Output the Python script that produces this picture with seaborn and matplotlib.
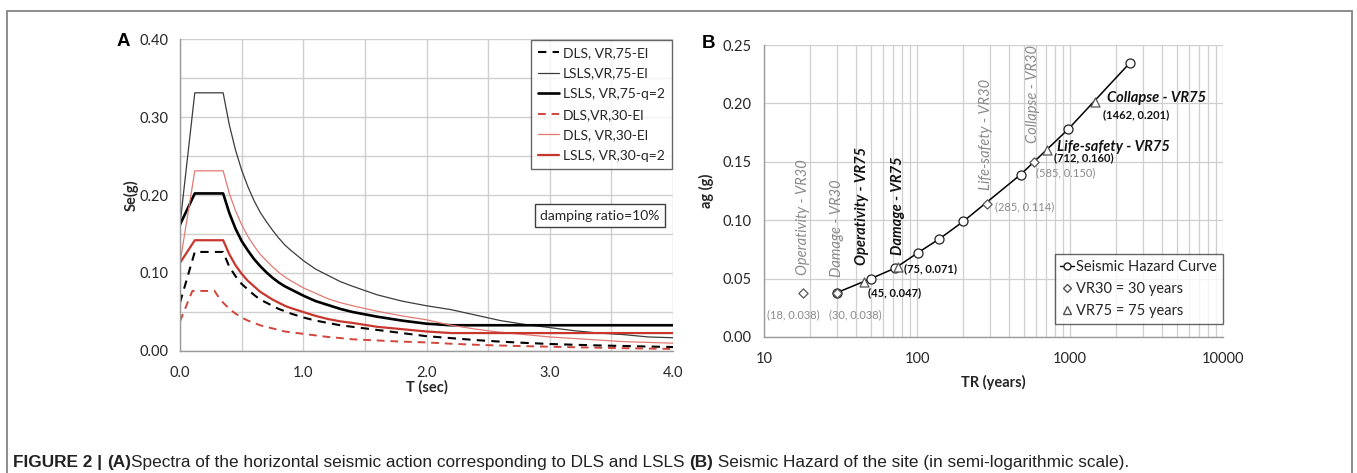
import numpy as np
import pandas as pd
import matplotlib
matplotlib.use("Agg")
import matplotlib.pyplot as plt
import seaborn as sns
from matplotlib.lines import Line2D
from matplotlib.ticker import MultipleLocator, FixedLocator, NullFormatter

# ---------------- data: panel A (response spectra) ----------------
T_common = [0.0, 0.12, 0.35, 0.40, 0.45, 0.50, 0.55, 0.60, 0.65, 0.70, 0.75, 0.80, 0.85, 0.90,
            1.0, 1.1, 1.2, 1.3, 1.4, 1.6, 1.8, 2.0, 2.2, 2.4, 2.6, 2.8, 3.0, 3.2, 3.4, 3.6,
            3.8, 4.0]
T_red_dls = [0.0, 0.10, 0.28, 0.32, 0.35, 0.40, 0.45, 0.50, 0.55, 0.60, 0.65, 0.70, 0.75, 0.80,
             0.85, 0.90, 1.0, 1.1, 1.2, 1.3, 1.4, 1.6, 1.8, 2.0, 2.2, 2.4, 2.6, 2.8, 3.0, 3.2,
             3.4, 3.6, 3.8, 4.0]

dls_vr75_el = [0.062, 0.127, 0.127, 0.108, 0.096, 0.086, 0.079, 0.072, 0.066, 0.062, 0.058, 0.054,
               0.051, 0.048, 0.043, 0.039, 0.036, 0.033, 0.031, 0.027, 0.023, 0.019, 0.0165,
               0.0140, 0.0120, 0.0104, 0.0090, 0.0080, 0.0071, 0.0064, 0.0057, 0.0051]
lsls_vr75_el = [0.162, 0.331, 0.331, 0.290, 0.258, 0.232, 0.211, 0.193, 0.178, 0.166, 0.155,
                0.145, 0.136, 0.129, 0.116, 0.105, 0.097, 0.089, 0.083, 0.072, 0.064, 0.058,
                0.053, 0.046, 0.039, 0.034, 0.030, 0.026, 0.023, 0.021, 0.018, 0.017]
lsls_vr75_q2 = [0.162, 0.202, 0.202, 0.177, 0.157, 0.141, 0.129, 0.118, 0.109, 0.101, 0.094,
                0.088, 0.083, 0.079, 0.071, 0.064, 0.059, 0.054, 0.050, 0.044, 0.039, 0.035,
                0.033, 0.033, 0.033, 0.033, 0.033, 0.033, 0.033, 0.033, 0.033, 0.033]
dls_vr30_el = [0.038, 0.077, 0.077, 0.0675, 0.062, 0.054, 0.048, 0.043, 0.039, 0.036, 0.033,
               0.031, 0.029, 0.027, 0.025, 0.024, 0.022, 0.020, 0.018, 0.0166, 0.015, 0.0135,
               0.0120, 0.0110, 0.0093, 0.0080, 0.0070, 0.0062, 0.0055, 0.0048, 0.0042, 0.0036,
               0.0031, 0.0027]
lsls_vr30_el = [0.113, 0.231, 0.231, 0.202, 0.180, 0.162, 0.147, 0.135, 0.124, 0.116, 0.108,
                0.101, 0.095, 0.090, 0.081, 0.074, 0.067, 0.062, 0.058, 0.051, 0.045, 0.040,
                0.033, 0.028, 0.024, 0.021, 0.018, 0.016, 0.014, 0.012, 0.011, 0.010]
lsls_vr30_q2 = [0.113, 0.142, 0.142, 0.124, 0.110, 0.099, 0.090, 0.083, 0.076, 0.071, 0.066,
                0.062, 0.058, 0.055, 0.050, 0.045, 0.041, 0.038, 0.036, 0.031, 0.028, 0.025,
                0.023, 0.023, 0.023, 0.023, 0.023, 0.023, 0.023, 0.023, 0.023, 0.023]

legend_a_labels = ["DLS, VR,75-El", "LSLS,VR,75-El", "LSLS, VR,75-q=2",
                   "DLS,VR,30-El", "DLS, VR,30-El", "LSLS, VR,30-q=2"]
xticks_a = [0.0, 1.0, 2.0, 3.0, 4.0]
yticks_a = [0.00, 0.10, 0.20, 0.30, 0.40]

# ---------------- data: panel B (seismic hazard) ----------------
hazard_tr = [30, 50, 72, 101, 140, 201, 475, 975, 2475]
hazard_ag = [0.038, 0.050, 0.059, 0.072, 0.084, 0.099, 0.139, 0.178, 0.235]
vr30_tr = [18, 30, 285, 585]
vr30_ag = [0.038, 0.038, 0.114, 0.150]
vr75_tr = [45, 75, 712, 1462]
vr75_ag = [0.047, 0.060, 0.160, 0.201]
xticks_b = [10, 100, 1000, 10000]
yticks_b = [0.00, 0.05, 0.10, 0.15, 0.20, 0.25]

# ---------------- styling ----------------
sns.set_style("white")
plt.rcParams["font.family"] = ["Lato", "DejaVu Sans"]
plt.rcParams["axes.unicode_minus"] = False

W, H = 1357, 473
fig = plt.figure(figsize=(W / 100, H / 100), dpi=100)
fig.patch.set_facecolor("white")


def fx(px):
    return px / W


def fy(py):
    return 1 - py / H


GRID = "#cfcfcf"
AXC = "#9a9a9a"
TXT = "#262626"
TICK_FS = 10.5
LAB_FS = 10.5

# ================= Panel A =================
axA = fig.add_axes([fx(180), fy(351), fx(673) - fx(180), fy(39) - fy(351)])
series = [
    (T_common, dls_vr75_el, dict(color="black", lw=1.5, linestyle=(0, (4, 3)))),
    (T_common, lsls_vr75_el, dict(color="#3c3c3c", lw=0.9, linestyle="-")),
    (T_common, lsls_vr75_q2, dict(color="black", lw=1.9, linestyle="-")),
    (T_red_dls, dls_vr30_el, dict(color="#d0463c", lw=1.4, linestyle=(0, (4, 3)))),
    (T_common, lsls_vr30_el, dict(color="#e27a74", lw=0.9, linestyle="-")),
    (T_common, lsls_vr30_q2, dict(color="#c8372d", lw=1.6, linestyle="-")),
]
handles = []
for (tx, vals, st), lab in zip(series, legend_a_labels):
    sns.lineplot(x=tx, y=vals, ax=axA, estimator=None, sort=False, **st)
    handles.append(Line2D([], [], **st, label=lab))

axA.set_xlim(0, 4)
axA.set_ylim(0, 0.40)
axA.xaxis.set_major_locator(FixedLocator(xticks_a))
axA.xaxis.set_minor_locator(MultipleLocator(0.5))
axA.yaxis.set_major_locator(FixedLocator(yticks_a))
axA.yaxis.set_minor_locator(MultipleLocator(0.05))
axA.set_xticklabels([f"{v:.1f}" for v in xticks_a])
axA.set_yticklabels([f"{v:.2f}" for v in yticks_a])
axA.grid(True, which="both", color=GRID, lw=1.0)
axA.set_axisbelow(True)
for s in ["top", "right"]:
    axA.spines[s].set_visible(False)
for s in ["left", "bottom"]:
    axA.spines[s].set_color(AXC)
    axA.spines[s].set_linewidth(1.0)
axA.tick_params(which="both", direction="out", length=4, color=AXC, width=1.0,
                labelsize=TICK_FS, labelcolor=TXT)
axA.tick_params(axis="x", pad=7)
axA.tick_params(axis="y", pad=4)
axA.set_xlabel("T (sec)", fontsize=LAB_FS, fontweight="bold", color=TXT, labelpad=0)
axA.set_ylabel("Se(g)", fontsize=LAB_FS, fontweight="bold", color=TXT, labelpad=1)

legA = axA.legend(handles=handles, loc="upper right", bbox_to_anchor=(0.998, 0.997),
                  borderaxespad=0, frameon=True, fancybox=False, fontsize=10,
                  handlelength=1.5, handletextpad=0.3, labelspacing=0.62,
                  borderpad=0.5, edgecolor="#404040")
legA.get_frame().set_linewidth(1.0)
for t in legA.get_texts():
    t.set_color(TXT)
axA.text(0.852, 0.433, "damping ratio=10%", transform=axA.transAxes, ha="center", va="center",
         fontsize=10, color=TXT,
         bbox=dict(boxstyle="square,pad=0.4", fc="white", ec="#404040", lw=1.0))

# ================= Panel B =================
axB = fig.add_axes([fx(764), fy(337), fx(1223) - fx(764), fy(45) - fy(337)])
sns.lineplot(x=hazard_tr, y=hazard_ag, ax=axB, color="black", lw=1.1, marker="o",
             markersize=6.5, markerfacecolor="white", markeredgecolor="#222222",
             markeredgewidth=0.9, estimator=None, sort=False, zorder=3)
sns.scatterplot(x=vr30_tr, y=vr30_ag, ax=axB, marker="D", s=22, facecolor="white",
                edgecolor="#555555", linewidth=0.9, zorder=4)
sns.scatterplot(x=vr75_tr, y=vr75_ag, ax=axB, marker="^", s=42, facecolor="white",
                edgecolor="#555555", linewidth=0.9, zorder=4)

axB.set_xscale("log")
axB.set_xlim(10, 10000)
axB.set_ylim(0, 0.25)
axB.xaxis.set_major_locator(FixedLocator(xticks_b))
axB.xaxis.set_minor_locator(FixedLocator([m * d for d in [10, 100, 1000] for m in range(2, 10)]))
axB.xaxis.set_minor_formatter(NullFormatter())
axB.set_xticklabels([str(v) for v in xticks_b])
axB.yaxis.set_major_locator(FixedLocator(yticks_b))
axB.set_yticklabels([f"{v:.2f}" for v in yticks_b])
axB.grid(True, which="both", axis="x", color=GRID, lw=0.9)
axB.grid(True, which="major", axis="y", color=GRID, lw=0.9)
axB.set_axisbelow(True)
for s in ["top", "right"]:
    axB.spines[s].set_visible(False)
for s in ["left", "bottom"]:
    axB.spines[s].set_color(AXC)
    axB.spines[s].set_linewidth(1.0)
axB.tick_params(which="both", direction="out", length=4, color=AXC, width=1.0,
                labelsize=TICK_FS, labelcolor=TXT)
axB.tick_params(axis="x", pad=7)
axB.tick_params(axis="y", pad=5)
axB.set_xlabel("TR (years)", fontsize=LAB_FS, fontweight="bold", color=TXT, labelpad=6)
axB.set_ylabel("ag (g)", fontsize=LAB_FS, fontweight="bold", color=TXT, labelpad=6)

GRAY = "#8a8a8a"
# vertical limit-state labels
rot_labels = [
    (18, 0.053, "Operativity - VR30", GRAY, "normal"),
    (30, 0.051, "Damage - VR30", GRAY, "normal"),
    (44, 0.062, "Operativity - VR75", "#111111", "bold"),
    (75, 0.070, "Damage - VR75", "#111111", "bold"),
    (282, 0.126, "Life-safety - VR30", GRAY, "normal"),
    (573, 0.166, "Collapse - VR30", GRAY, "normal"),
]
for x, y, s, c, w in rot_labels:
    axB.text(x, y, s, rotation=90, ha="center", va="bottom", fontsize=10.5,
             style="italic", color=c, fontweight=w)
axB.text(1746, 0.2046, "Collapse - VR75", ha="left", va="center", fontsize=10.5,
         style="italic", fontweight="bold", color="#111111")
axB.text(822, 0.1627, "Life-safety - VR75", ha="left", va="center", fontsize=10.5,
         style="italic", fontweight="bold", color="#111111")

pt_labels = [
    (10.5, 0.0188, "(18, 0.038)", GRAY, "normal"),
    (26.6, 0.0188, "(30, 0.038)", GRAY, "normal"),
    (47.9, 0.0377, "(45, 0.047)", "#111111", "bold"),
    (82.2, 0.0582, "(75, 0.071)", "#111111", "bold"),
    (323.6, 0.1113, "(285, 0.114)", GRAY, "normal"),
    (600, 0.1410, "(585, 0.150)", GRAY, "normal"),
    (785, 0.1535, "(712, 0.160)", "#111111", "bold"),
    (1644, 0.190, "(1462, 0.201)", "#111111", "bold"),
]
for x, y, s, c, w in pt_labels:
    axB.text(x, y, s, ha="left", va="center", fontsize=8, color=c, fontweight=w)

hB = [
    Line2D([], [], color="black", lw=1.0, marker="o", markersize=5, markerfacecolor="white",
           markeredgecolor="#222222", label="Seismic Hazard Curve"),
    Line2D([], [], color="none", marker="D", markersize=4, markerfacecolor="white",
           markeredgecolor="#555555", label="VR30 = 30 years"),
    Line2D([], [], color="none", marker="^", markersize=6, markerfacecolor="white",
           markeredgecolor="#555555", label="VR75 = 75 years"),
]
legB = axB.legend(handles=hB, loc="upper right", bbox_to_anchor=(1.0, 0.284), borderaxespad=0,
                  frameon=True, fancybox=False, fontsize=10.5, handlelength=0.9,
                  handletextpad=0.2, labelspacing=0.55, borderpad=0.4, edgecolor="#404040")
legB.get_frame().set_linewidth(1.0)
for t in legB.get_texts():
    t.set_color(TXT)

# panel letters
fig.text(fx(117), fy(41), "A", fontsize=13.5, fontweight="bold", family="Liberation Sans",
         ha="left", va="center", color="black")
fig.text(fx(702), fy(43), "B", fontsize=13.5, fontweight="bold", family="Liberation Sans",
         ha="left", va="center", color="black")

# frame
FR = "#8c8c8c"
fig.add_artist(Line2D([fx(7), fx(1352)], [fy(11), fy(11)], transform=fig.transFigure,
                      color=FR, lw=1.4))
fig.add_artist(Line2D([fx(7), fx(7)], [fy(11), 0], transform=fig.transFigure, color=FR, lw=1.4))
fig.add_artist(Line2D([fx(1352), fx(1352)], [fy(11), 0], transform=fig.transFigure,
                      color=FR, lw=1.4))

# caption (mixed bold / regular)
pieces = [("FIGURE 2 | ", "bold"), ("(A)", "bold"),
          ("Spectra of the horizontal seismic action corresponding to DLS and LSLS ", "normal"),
          ("(B)", "bold"), (" Seismic Hazard of the site (in semi-logarithmic scale).", "normal")]
renderer = fig.canvas.get_renderer()
cap_fs = 10.0
target_w = 1130 - 13


def draw_caption(fs, keep=True):
    x = fx(13)
    arts = []
    for s, w in pieces:
        t = fig.text(x, fy(462), s, fontsize=fs, fontweight=w, family="Liberation Sans",
                     ha="left", va="center", color="#222222")
        bb = t.get_window_extent(renderer)
        x += bb.width / W
        arts.append(t)
    total = x * W - 13
    if not keep:
        for a in arts:
            a.remove()
    return total


tw = draw_caption(cap_fs, keep=False)
cap_fs = cap_fs * target_w / tw
draw_caption(cap_fs, keep=True)

fig.savefig("out.png", dpi=100, facecolor="white")
